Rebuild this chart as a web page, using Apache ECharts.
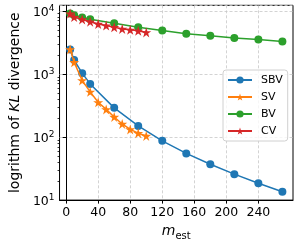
<!DOCTYPE html>
<html><head><meta charset="utf-8">
<script src="https://cdn.jsdelivr.net/npm/echarts@6/dist/echarts.min.js"></script>
<style>html,body{margin:0;padding:0;background:#fff}#c{width:299px;height:246px}</style>
</head><body><div id="c"></div>
<script>
const seriesNames = ['SBV', 'SV', 'BV', 'CV'];
const xSBV = [5, 10, 20, 30, 60, 90, 120, 150, 180, 210, 240, 270];
const ySBV = [2450, 1660, 1030, 695, 290, 150, 87, 55, 37, 25.8, 18.5, 13.6];
const xSV = [5, 10, 20, 30, 40, 50, 60, 70, 80, 90, 100];
const ySV = [2450, 1530, 790, 520, 355, 274, 208, 161, 132, 115, 104];
const xBV = [5, 10, 20, 30, 60, 90, 120, 150, 180, 210, 240, 270];
const yBV = [9060, 8500, 7850, 7390, 6340, 5500, 4890, 4330, 4040, 3720, 3500, 3260];
const xCV = [5, 10, 20, 30, 40, 50, 60, 70, 80, 90, 100];
const yCV = [9060, 7970, 7310, 6730, 6180, 5840, 5500, 5180, 5000, 4820, 4550];
const xTicks = [0, 40, 80, 120, 160, 200, 240];
const yMin = 10, yMax = 12240;
const xMin = -8.25, xMax = 283.25;

const minorLogs = [];
for (let n = 1; n <= 3; n++) for (let k = 2; k <= 9; k++) minorLogs.push(Math.log10(k * Math.pow(10, n)));

const FONT = 'DejaVu Sans';
const STAR = 'path://M0,-100 L22.5,-30.9 L95.1,-30.9 L36.3,11.8 L58.8,80.9 L0,38.2 L-58.8,80.9 L-36.3,11.8 L-95.1,-30.9 L-22.5,-30.9 Z';
const colors = ['#1f77b4', '#ff7f0e', '#2ca02c', '#d62728'];
function pairs(xs, ys) { return xs.map((x, i) => [x, ys[i]]); }
const defs = [
  [xSBV, ySBV, 'circle', 8],
  [xSV, ySV, STAR, 10],
  [xBV, yBV, 'circle', 8],
  [xCV, yCV, STAR, 10]
];

const chart = echarts.init(document.getElementById('c'), null, {renderer: 'canvas'});
chart.setOption({
  animation: false,
  color: colors,
  grid: {left: 52, right: 6, top: 5, bottom: 41, show: true, borderColor: '#000', borderWidth: 1, backgroundColor: 'transparent'},
  xAxis: {
    type: 'value', min: xMin, max: xMax,
    axisLine: {lineStyle: {color: '#000', width: 1}},
    axisTick: {customValues: xTicks, length: 3.5, lineStyle: {color: '#000'}},
    axisLabel: {customValues: xTicks, margin: 6, fontFamily: FONT, fontSize: 12.5, color: '#000'},
    splitLine: {show: true, lineStyle: {color: '#c8c8c8', type: [3, 2], width: 0.8}},
    name: '{i|m}{sub|est}', nameLocation: 'middle', nameGap: 19.5,
    nameTextStyle: {
      rich: {
        i: {fontFamily: FONT, fontStyle: 'italic', fontSize: 14, color: '#000', lineHeight: 17, verticalAlign: 'top'},
        sub: {fontFamily: FONT, fontSize: 10, color: '#000', lineHeight: 17, verticalAlign: 'bottom'}
      }
    }
  },
  yAxis: [{
    type: 'log', logBase: 10, min: yMin, max: yMax,
    axisLine: {show: true, lineStyle: {color: '#000', width: 1}},
    axisTick: {show: true, length: 3.5, lineStyle: {color: '#000'}},
    axisLabel: {
      showMaxLabel: false, margin: 5, fontFamily: FONT, fontSize: 12.5, color: '#000', lineHeight: 18, padding: [4, 0, 0, 0],
      formatter: function (v) {
        const l = Math.log10(v), e = Math.round(l);
        if (Math.abs(l - e) > 1e-6) return '';
        return '10{sup|' + e + '}';
      },
      rich: {sup: {fontFamily: FONT, fontSize: 9, color: '#000', verticalAlign: 'top', lineHeight: 18}}
    },
    splitLine: {show: true, lineStyle: {color: '#c8c8c8', type: [3, 2], width: 0.8}},
    name: 'logrithm of {i|KL} divergence', nameLocation: 'middle', nameGap: 35,
    nameTextStyle: {
      fontFamily: FONT, fontSize: 14, color: '#000',
      rich: {i: {fontFamily: FONT, fontStyle: 'italic', fontSize: 14, color: '#000'}}
    }
  }, {
    type: 'value', min: 1, max: Math.log10(yMax), position: 'left',
    axisLine: {show: false},
    axisTick: {show: true, customValues: minorLogs, length: 2, lineStyle: {color: '#000', width: 0.8}},
    axisLabel: {show: false},
    splitLine: {show: false}
  }],
  legend: {
    orient: 'vertical', left: 223, top: 70,
    itemWidth: 24, itemHeight: 9, itemGap: 3,
    padding: [3, 5, 3, 4],
    backgroundColor: 'rgba(255,255,255,0.8)', borderColor: '#d0d0d0', borderWidth: 1, borderRadius: 3,
    textStyle: {fontFamily: FONT, fontSize: 11, color: '#000', lineHeight: 14, padding: [0, 0, 0, 4]},
    data: seriesNames
  },
  series: defs.map((d, i) => ({
    name: seriesNames[i], type: 'line', yAxisIndex: 0,
    data: pairs(d[0], d[1]),
    symbol: d[2], symbolSize: d[3], showAllSymbol: true,
    lineStyle: {width: 1.5, color: colors[i]},
    itemStyle: {color: colors[i], borderWidth: 0},
    z: 2 + i
  }))
});
</script></body></html>
